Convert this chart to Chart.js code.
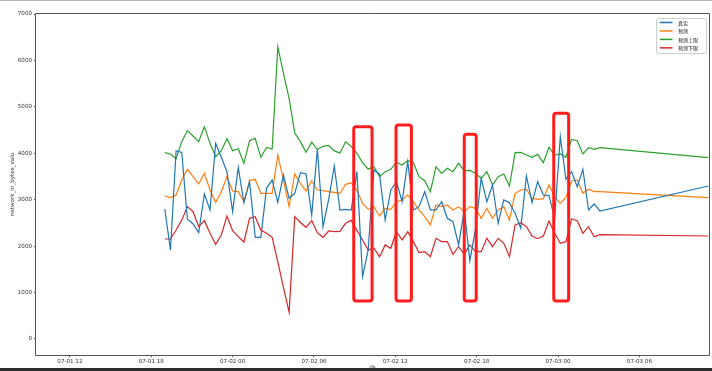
<!DOCTYPE html>
<html><head><meta charset="utf-8">
<script src="https://cdn.jsdelivr.net/npm/chart.js@4.4.1/dist/chart.umd.min.js"></script>
<style>
html,body{margin:0;padding:0;background:#fff;}
#wrap{position:relative;width:712px;height:371px;overflow:hidden;}
#topline{position:absolute;left:0;top:0;width:712px;height:1px;background:#b5b5b5;}
#botbar{position:absolute;left:0;bottom:0;width:712px;height:3px;background:#2e2e2e;}
</style></head>
<body><div id="wrap"><canvas id="c" width="712" height="371"></canvas><div id="topline"></div><div id="botbar"></div></div>
<script>
// ---- data ----
const times = [
"07-01 19:00","07-01 19:25","07-01 19:50","07-01 20:15","07-01 20:40","07-01 21:05","07-01 21:30","07-01 21:55","07-01 22:20","07-01 22:45",
"07-01 23:10","07-01 23:35","07-02 00:00","07-02 00:25","07-02 00:50","07-02 01:15","07-02 01:40","07-02 02:05","07-02 02:30","07-02 02:55",
"07-02 03:20","07-02 03:45","07-02 04:10","07-02 04:35","07-02 05:00","07-02 05:25","07-02 05:50","07-02 06:15","07-02 06:40","07-02 07:05",
"07-02 07:30","07-02 07:55","07-02 08:20","07-02 08:45","07-02 09:10","07-02 09:35","07-02 10:00","07-02 10:25","07-02 10:50","07-02 11:15",
"07-02 11:40","07-02 12:05","07-02 12:30","07-02 12:55","07-02 13:20","07-02 13:45","07-02 14:10","07-02 14:35","07-02 15:00","07-02 15:25",
"07-02 15:50","07-02 16:15","07-02 16:40","07-02 17:05","07-02 17:30","07-02 17:55","07-02 18:20","07-02 18:45","07-02 19:10","07-02 19:35",
"07-02 20:00","07-02 20:25","07-02 20:50","07-02 21:15","07-02 21:40","07-02 22:05","07-02 22:30","07-02 22:55","07-02 23:20","07-02 23:45",
"07-03 00:10","07-03 00:35","07-03 01:00","07-03 01:25","07-03 01:50","07-03 02:15","07-03 02:40","07-03 03:05","07-03 11:05"];
const actual = [
2800,1917,4056,4020,2578,2477,2290,3123,2778,4214,
3913,3603,2742,3697,2936,3388,2190,2190,3245,3424,
2943,3532,3030,3138,3582,3554,2670,4092,2419,3000,
3725,2778,2792,2778,3603,1342,1917,3640,3550,2563,
3209,3388,2957,3819,2779,2850,3173,2779,2779,2957,
2600,2527,2025,2779,1687,2384,3461,2957,3317,2491,
2994,2936,2707,2384,3511,2936,3388,3101,3087,2600,
4357,3439,3603,3280,3654,2778,2908,2757,3295];
const predicted = [
3080,3044,3101,3424,3654,3496,3338,3568,3209,2943,
3173,3496,3187,3173,2957,3410,3439,3138,3138,3138,
3963,3424,2850,3554,3353,3187,3410,3209,3195,3173,
3159,3138,3331,3360,3209,2922,2793,2850,2650,2814,
2793,2957,2994,3101,2957,2779,2634,2456,2886,2850,
2886,2779,2850,2743,2850,2814,2600,2814,2600,2779,
2850,2563,3137,3209,3224,3030,3009,3022,3317,3065,
2922,3051,3403,3424,3138,3224,3173,3173,3044];
const upper = [
4013,3985,3884,4250,4487,4372,4250,4573,4214,3927,
4056,4314,4056,4099,3784,4271,4322,3913,4128,4092,
6296,5722,5184,4437,4250,4020,4239,4081,4150,4171,
4052,4006,4246,4150,4000,3800,3658,3715,3496,3603,
3654,3805,3748,3841,3798,3496,3410,3173,3711,3568,
3676,3603,3784,3625,3632,3568,3460,3603,3317,3496,
3554,3295,4013,4020,3963,3913,3977,3798,4128,3963,
3985,3913,4300,4271,3985,4121,4085,4121,3906];
const lower = [
2154,2154,2348,2563,2850,2742,2419,2548,2276,2040,
2240,2649,2333,2204,2089,2599,2634,2348,2276,2190,
1660,1110,575,2634,2510,2405,2548,2290,2190,2326,
2311,2318,2491,2555,2340,2133,1917,1960,1773,2025,
1953,2311,2133,2311,2097,1859,1880,1773,2169,2097,
2097,1824,1988,1824,2025,1880,1880,2169,1988,2169,
2061,1773,2456,2505,2420,2218,2160,2218,2541,2276,
2061,2096,2585,2548,2276,2419,2203,2246,2218];
const seriesNames = ["真实","预测","预测上限","预测下限"];
const xTickLabels = ["07-01 12","07-01 18","07-02 00","07-02 06","07-02 12","07-02 18","07-03 00","07-03 06"];
const yTickValues = [0,1000,2000,3000,4000,5000,6000,7000];
const xRange = ["07-01 09:30","07-03 11:08"];
const yRange = [-345, 7000];
const yTitle = "network_in_bytes_valu";
const xTitle = "ds";
// highlighted windows (red boxes)
const boxStart = ["07-02 08:56","07-02 12:03","07-02 17:05","07-02 23:41"];
const boxEnd   = ["07-02 10:17","07-02 13:11","07-02 17:58","07-03 00:47"];
const boxLow   = [818,818,818,818];
const boxHigh  = [4572,4609,4409,4861];

// ---- helpers ----
function toHours(s){
  const [d,t] = s.split(' ');
  const day = +d.split('-')[1];
  const [h,m] = (t.includes(':')?t:t+':00').split(':').map(Number);
  return (day-1)*24 + h + m/60;
}
const pad2 = n => String(n).padStart(2,'0');
const xs = times.map(toHours);
const mk = arr => arr.map((v,i)=>({x:xs[i], y:v}));
const colors = ["#1f77b4","#ff7f0e","#2ca02c","#d62728"];
const tickFont = {family:"DejaVu Sans", size:5.6};

const framePlugin = {
  id:'frame',
  afterDatasetsDraw(chart){
    const {ctx, chartArea:a, scales:{x,y}} = chart;
    ctx.save();
    // red highlight boxes
    ctx.strokeStyle = '#ff1c1c'; ctx.lineWidth = 3; ctx.lineJoin='round';
    for(let i=0;i<boxStart.length;i++){
      const x0 = x.getPixelForValue(toHours(boxStart[i])), x1 = x.getPixelForValue(toHours(boxEnd[i]));
      const y0 = y.getPixelForValue(boxHigh[i]), y1 = y.getPixelForValue(boxLow[i]);
      ctx.beginPath();
      if (ctx.roundRect) ctx.roundRect(x0,y0,x1-x0,y1-y0,2.5); else ctx.rect(x0,y0,x1-x0,y1-y0);
      ctx.stroke();
    }
    // frame
    ctx.strokeStyle = '#555'; ctx.lineWidth = 1;
    ctx.strokeRect(Math.round(a.left)-0.5, Math.round(a.top)-0.5, Math.round(a.right-a.left)+1, Math.round(a.bottom-a.top)+1);
    // legend
    const bx=656.5, by=18.5, bw=50, bh=35;
    ctx.fillStyle='rgba(255,255,255,0.85)';
    ctx.strokeStyle='#cccccc'; ctx.lineWidth=1;
    ctx.beginPath();
    if (ctx.roundRect) ctx.roundRect(bx,by,bw,bh,2); else ctx.rect(bx,by,bw,bh);
    ctx.fill(); ctx.stroke();
    ctx.font = "5px 'Noto Sans CJK SC'";
    ctx.textBaseline='middle';
    chart.data.datasets.forEach((ds,i)=>{
      const ry = 22.5 + i*8.45;
      ctx.strokeStyle = ds.borderColor; ctx.lineWidth=1.5;
      ctx.beginPath(); ctx.moveTo(660,ry); ctx.lineTo(672.5,ry); ctx.stroke();
      ctx.fillStyle='#222';
      ctx.fillText(ds.label, 678, ry+0.3);
    });
    ctx.restore();
  }
};

new Chart(document.getElementById('c'), {
  type:'line',
  data:{
    datasets:[actual,predicted,upper,lower].map((arr,i)=>({
      label: seriesNames[i], data: mk(arr), borderColor: colors[i], backgroundColor: colors[i],
      borderWidth: 1.2, pointRadius: 0, tension: 0, fill:false
    }))
  },
  options:{
    responsive:false, animation:false, devicePixelRatio:1,
    layout:{padding:{left:0, top:14, right:3, bottom:0}},
    plugins:{legend:{display:false}, tooltip:{enabled:false}},
    scales:{
      x:{
        type:'linear', min: toHours(xRange[0]), max: toHours(xRange[1]),
        afterBuildTicks: s => { s.ticks = xTickLabels.map(t=>({value: toHours(t)})); },
        afterFit: s => { s.height = 16; },
        ticks:{ font: tickFont, color:'#333', padding:1, maxRotation:0, autoSkip:false,
          callback: v => { const d = Math.floor(v/24), h = Math.round(v - d*24); return '07-' + pad2(d+1) + ' ' + pad2(h); } },
        grid:{ display:true, drawOnChartArea:false, drawTicks:true, tickLength:2, tickColor:'#555' },
        border:{ display:false },
        title:{ display:true, text:xTitle, font:{family:"DejaVu Sans", size:5.6}, color:'#333', padding:{top:0,bottom:0} }
      },
      y:{
        type:'linear', min: yRange[0], max: yRange[1],
        afterBuildTicks: s => { s.ticks = yTickValues.map(v=>({value:v})); },
        afterFit: s => { s.width = 36; },
        ticks:{ font: tickFont, color:'#333', padding:2, callback: v => String(v) },
        grid:{ display:true, drawOnChartArea:false, drawTicks:true, tickLength:2, tickColor:'#555' },
        border:{ display:false },
        title:{ display:true, text:yTitle, font:{family:"DejaVu Sans", size:5.6}, color:'#333', padding:{top:9.3,bottom:0} }
      }
    }
  },
  plugins:[framePlugin]
});
</script>
</body></html>
